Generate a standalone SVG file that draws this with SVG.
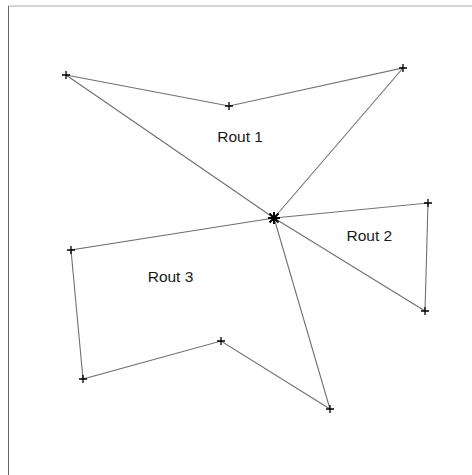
<svg xmlns="http://www.w3.org/2000/svg" width="472" height="475" viewBox="0 0 472 475">
<defs>
<style>
.edge{stroke:#707070;stroke-width:1.1;fill:none}
.mk{stroke:#000;stroke-width:1.3;fill:none}
.lbl{font-family:"Liberation Sans",Arial,sans-serif;font-size:15.5px;fill:#1a1a1a}
</style>
<path id="plus" class="mk" d="M-4,0H4M0,-4V4"/>
</defs>
<rect width="472" height="475" fill="#fff"/>
<g id="frame">
<line x1="8.5" y1="6" x2="472" y2="6" stroke="#aaa" stroke-width="1"/>
<line x1="8.5" y1="6" x2="8.5" y2="475" stroke="#666" stroke-width="1"/>
</g>
<g id="connectors">
<polyline class="edge" points="274,218 66,75 229,106 403,68 274,218"/>
<polyline class="edge" points="274,218 428,203 425,311 274,218"/>
<polyline class="edge" points="274,218 71,250 83,379 221,341 330,409 274,218"/>
</g>
<g id="depot">
<path stroke="#000" stroke-width="2" fill="none" d="M268,218H280M274,212V224M269.5,213.5L278.5,222.5M278.5,213.5L269.5,222.5"/>
</g>
<g id="r1a"><use href="#plus" x="66" y="75"/></g>
<g id="r1b"><use href="#plus" x="229" y="106"/></g>
<g id="r1c"><use href="#plus" x="403" y="68"/></g>
<g id="r2a"><use href="#plus" x="428" y="203"/></g>
<g id="r2b"><use href="#plus" x="425" y="311"/></g>
<g id="r3a"><use href="#plus" x="71" y="250"/></g>
<g id="r3b"><use href="#plus" x="83" y="379"/></g>
<g id="r3c"><use href="#plus" x="221" y="341"/></g>
<g id="r3d"><use href="#plus" x="330" y="409"/></g>
<g id="labels">
<text class="lbl" x="217.3" y="142">Rout 1</text>
<text class="lbl" x="346.5" y="240.7">Rout 2</text>
<text class="lbl" x="147.7" y="282">Rout 3</text>
</g>
</svg>
